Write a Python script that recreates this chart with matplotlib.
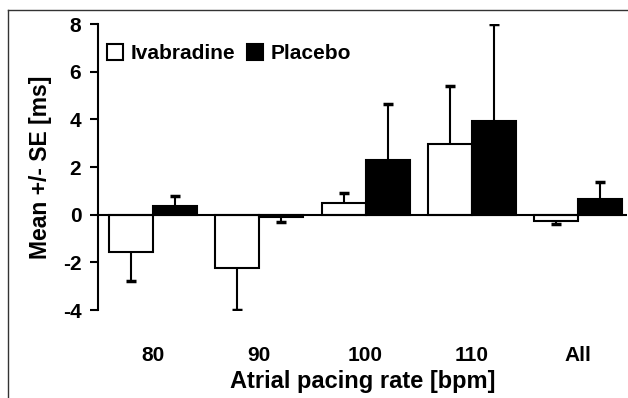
import matplotlib
matplotlib.use('Agg')
import matplotlib.pyplot as plt
from matplotlib.patches import Patch
from matplotlib.lines import Line2D
import numpy as np

plt.rcParams['font.family'] = ['Liberation Sans', 'DejaVu Sans']
plt.rcParams['font.weight'] = 'bold'
plt.rcParams['axes.unicode_minus'] = False

# data
rates = ['80', '90', '100', '110', 'All']
iva_mean = [-1.55, -2.22, 0.5, 2.98, -0.25]
iva_se = [1.25, 1.78, 0.42, 2.4, 0.15]
pla_mean = [0.38, -0.1, 2.3, 3.95, 0.65]
pla_se = [0.42, 0.2, 2.35, 4.05, 0.7]

x = np.arange(len(rates))
w = 0.414

fig = plt.figure(figsize=(6.28, 3.98), dpi=100)
ax = fig.add_axes([98 / 628, 1 - 310 / 398, 529 / 628, 286 / 398])

ax.bar(x - w / 2, iva_mean, w, color='white', edgecolor='black', linewidth=1.5, zorder=2)
ax.bar(x + w / 2, pla_mean, w, color='black', edgecolor='black', linewidth=1.5, zorder=2)

# one-sided error bars, away from zero, cap only at the far end
def errbar(xs, m, e):
    ends = [mi - ei if mi < 0 else mi + ei for mi, ei in zip(m, e)]
    ax.vlines(xs, m, ends, color='black', linewidth=1.5, zorder=1)
    ax.plot(xs, ends, linestyle='none', marker='_', markersize=7,
            markeredgewidth=2.5, color='black', zorder=1)

errbar(x - w / 2, iva_mean, iva_se)
errbar(x + w / 2, pla_mean, pla_se)

ax.axhline(0, color='black', linewidth=1.5, zorder=3)

ax.set_xlim(-0.518, 4.46)
ax.set_ylim(-4, 8)
ax.set_yticks([-4, -2, 0, 2, 4, 6, 8])
ax.set_xticks(x)
ax.set_xticklabels(rates)
ax.tick_params(axis='x', length=0, pad=26, labelsize=15)
ax.tick_params(axis='y', length=6, width=1.5, pad=6, labelsize=15)
for s in ['top', 'right', 'bottom']:
    ax.spines[s].set_visible(False)
ax.spines['left'].set_linewidth(1.5)

ax.set_xlabel('Atrial pacing rate [bpm]', fontsize=17, fontweight='bold', labelpad=0)
ax.set_ylabel('Mean +/- SE [ms]', fontsize=16.5, fontweight='bold', labelpad=8)
ax.xaxis.set_label_coords(0.5, -0.21)

handles = [Patch(facecolor='white', edgecolor='black', linewidth=1.5),
           Patch(facecolor='black', edgecolor='black', linewidth=1.5)]
ax.legend(handles, ['Ivabradine', 'Placebo'], loc='upper left', bbox_to_anchor=(-0.01, 0.98),
          ncol=2, frameon=False, fontsize=15, handlelength=0.75, handleheight=0.75,
          handletextpad=0.35, columnspacing=0.6, borderaxespad=0.3)

# frame of the original image (top and left visible)
fig.add_artist(Line2D([8 / 628, 8 / 628], [0, 1 - 10 / 398], color='#333333', linewidth=1))
fig.add_artist(Line2D([8 / 628, 1], [1 - 10 / 398, 1 - 10 / 398], color='#333333', linewidth=1))

fig.savefig('out.png', dpi=100)
